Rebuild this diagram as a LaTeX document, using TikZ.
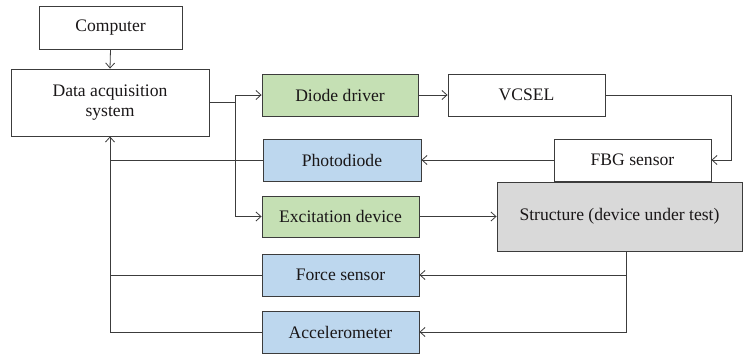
\documentclass[tikz,border=0pt]{standalone}
\usepackage{fontspec}
\setmainfont{Liberation Serif}
\usetikzlibrary{arrows.meta}
\definecolor{ink}{HTML}{1A1718}
\definecolor{edge}{HTML}{3C3C3C}
\definecolor{greenfill}{HTML}{C5E0B4}
\definecolor{bluefill}{HTML}{BDD7EE}
\definecolor{grayfill}{HTML}{D9D9D9}
\tikzset{
  block/.style={draw=edge, line width=0.9pt, rectangle, inner sep=0pt,
    text=ink, align=center, font=\fontsize{17.6}{19.5}\selectfont},
  plain/.style={block, fill=white},
  drive/.style={block, fill=greenfill},
  sense/.style={block, fill=bluefill},
  dut/.style={block, fill=grayfill},
  link/.style={draw=edge, line width=0.8pt},
  arr/.style={link, -{Straight Barb[length=5pt,width=9pt]}}
}
\begin{document}
\begin{tikzpicture}[x=1pt,y=-1pt]
\useasboundingbox (0,0) rectangle (744,354);

% blocks
\node[plain, minimum width=143pt, minimum height=43pt] (comp) at (110.5,27.5) {Computer};
\node[plain, minimum width=198pt, minimum height=67pt] (daq) at (110,102.5) {Data acquisition\\system};
\node[drive, minimum width=156pt, minimum height=42pt] (diode) at (340,95) {Diode driver};
\node[plain, minimum width=157pt, minimum height=42pt] (vcsel) at (526.5,95) {VCSEL};
\node[sense, minimum width=158pt, minimum height=42pt] (pd) at (342,160) {Photodiode};
\node[plain, minimum width=157pt, minimum height=42pt] (fbg) at (632.5,160) {FBG sensor};
\node[drive, minimum width=157pt, minimum height=41pt] (exc) at (340.5,216.5) {Excitation device};
\node[dut, minimum width=245pt, minimum height=69pt] (dut) at (619.5,216.5) {Structure (device under test)};
\node[sense, minimum width=157pt, minimum height=42pt] (force) at (340.5,275) {Force sensor};
\node[sense, minimum width=157pt, minimum height=42pt] (acc) at (340.5,332) {Accelerometer};

% computer to acquisition system
\draw[arr] (comp.south) -- (daq.south |- daq.north);

% acquisition system drives the actuators
\draw[link] (daq.east) -- ++(26,0) coordinate (split);
\draw[arr] (split) |- (diode.west);
\draw[arr] (split) |- (exc.west);

% optical path
\draw[arr] (diode.east) -- (vcsel.west);
\draw[arr] (vcsel.east) -- ++(126,0) |- (fbg.east);
\draw[arr] (fbg.west) -- (pd.east);

% excitation of the structure
\draw[arr] (exc.east) -- (dut.west);

% structure feeds the sensors
\coordinate (tap) at ([xshift=6.5pt]dut.south);
\draw[arr] (tap) |- (acc.east);
\draw[arr] (tap |- force.east) -- (force.east);

% sensor signals back to the acquisition system
\draw[arr] (acc.west) -| (daq.south);
\draw[link] (force.west) -- (force.west -| daq.south);
\draw[link] (pd.west) -- (pd.west -| daq.south);
\end{tikzpicture}
\end{document}
